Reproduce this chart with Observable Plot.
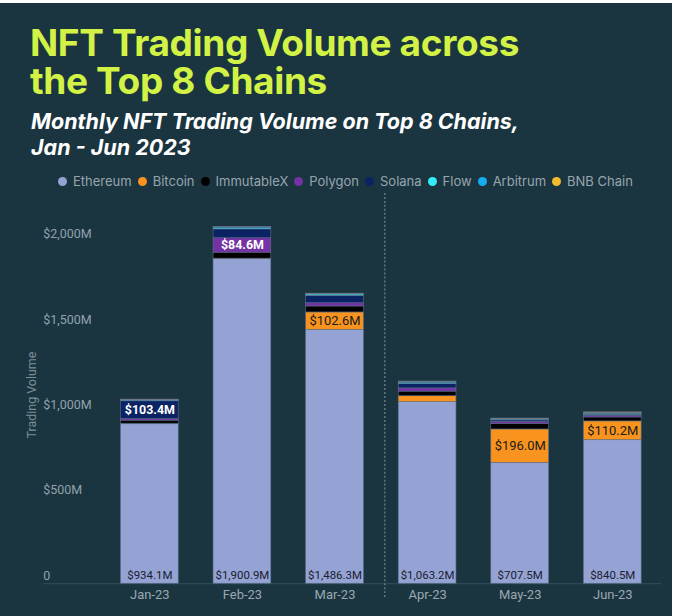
<!DOCTYPE html>
<html>
<head>
<meta charset="utf-8">
<script src="https://cdn.jsdelivr.net/npm/d3@7"></script>
<script src="https://cdn.jsdelivr.net/npm/@observablehq/plot@0.6"></script>
<style>
  html, body { margin: 0; padding: 0; background: #ffffff; }
  #card { position: absolute; left: 0; top: 3px; width: 672px; height: 613px; background: #1a3540; overflow: hidden; font-family: Inter, Roboto, sans-serif; }
  .title { position: absolute; left: 30px; margin: 0; font-family: Inter, Roboto, sans-serif; font-size: 37px; line-height: 38px; height: 38px; font-weight: 700; color: #d2f245; letter-spacing: -0.35px; white-space: nowrap; }
  .subtitle { position: absolute; left: 31px; margin: 0; font-family: Inter, Roboto, sans-serif; font-size: 21.5px; line-height: 26px; height: 26px; font-weight: 700; font-style: italic; color: #ffffff; white-space: nowrap; }
  #legend { position: absolute; left: 58px; top: 170px; display: flex; align-items: center; font-size: 13px; color: #98a5ae; white-space: nowrap; }
  #legend .item { display: flex; align-items: center; margin-right: 6px; }
  #legend .dot { width: 9px; height: 9px; border-radius: 50%; margin-right: 6px; }
  #chart { position: absolute; left: 0; top: 184px; }
</style>
</head>
<body>
<div id="card">
  <div class="title" style="top: 21px;">NFT Trading Volume across</div>
  <div class="title" style="top: 59px;">the Top 8 Chains</div>
  <div class="subtitle" style="top: 105px;">Monthly NFT Trading Volume on Top 8 Chains,</div>
  <div class="subtitle" style="top: 131px;">Jan - Jun 2023</div>
  <div id="legend"></div>
  <div id="chart"></div>
</div>
<script>
const months = ["Jan-23", "Feb-23", "Mar-23", "Apr-23", "May-23", "Jun-23"];
const chains = ["Ethereum", "Bitcoin", "ImmutableX", "Polygon", "Solana", "Flow", "Arbitrum", "BNB Chain"];
const chainColors = ["#94a3d4", "#f7931e", "#000000", "#7432a4", "#0b2363", "#34ecf8", "#14aef0", "#f3ba2f"];

// Monthly volume, $M
const ethereum   = [934.1, 1900.9, 1486.3, 1063.2, 707.5, 840.5];
const bitcoin    = [3, 3, 102.6, 35, 196.0, 110.2];
const immutableX = [18, 35, 35, 27, 33, 23];
const polygon    = [10, 84.6, 19, 19, 12, 10];
const solana     = [103.4, 52, 43, 25, 8, 6];
const flow       = [5, 8, 8, 6, 5, 5];
const arbitrum   = [3, 4, 3, 7, 4, 5];
const bnbChain   = [2, 3, 2, 2, 2, 4];

// Which segments carry a value label
const labeledSegments = [
  ["Jan-23", "Solana"], ["Feb-23", "Polygon"], ["Mar-23", "Bitcoin"],
  ["May-23", "Bitcoin"], ["Jun-23", "Bitcoin"]
];

const yTicks = [0, 500, 1000, 1500, 2000];
const dividerMonth = "Apr-23";

const series = [ethereum, bitcoin, immutableX, polygon, solana, flow, arbitrum, bnbChain];
const rows = [];
months.forEach((m, i) => {
  chains.forEach((c, j) => {
    rows.push({month: m, chain: c, value: series[j][i]});
  });
});
const isLabeled = d => labeledSegments.some(([m, c]) => m === d.month && c === d.chain);
const fmt = v => "$" + d3.format(",.1f")(v) + "M";
const ethRows = rows.filter(d => d.chain === "Ethereum");

// Legend
const legend = document.getElementById("legend");
chains.forEach((c, j) => {
  const item = document.createElement("div");
  item.className = "item";
  const dot = document.createElement("span");
  dot.className = "dot";
  dot.style.background = chainColors[j];
  const txt = document.createElement("span");
  txt.textContent = c;
  item.appendChild(dot);
  item.appendChild(txt);
  legend.appendChild(item);
});

const chart = Plot.plot({
  width: 675,
  height: 429,
  marginLeft: 101,
  marginRight: 11,
  marginTop: 55,
  marginBottom: 31,
  style: {background: "transparent", fontFamily: "Roboto, sans-serif"},
  x: {domain: months, paddingInner: 0.378, paddingOuter: 0.189, label: null},
  y: {domain: [0, 2000], label: null},
  color: {domain: chains, range: chainColors},
  marks: [
    Plot.ruleY([0], {stroke: "#34505c", insetLeft: -58}),
    Plot.ruleX([dividerMonth], {y1: 2286, y2: -90, dx: -43, stroke: "#5f7884", strokeWidth: 1.5, strokeDasharray: "2,2"}),
    Plot.barY(rows, {x: "month", y: "value", fill: "chain", stroke: "#5b6f8a", strokeWidth: 0.6}),
    Plot.text(rows, Plot.stackY({x: "month", y: "value",
      text: d => isLabeled(d) && (d.chain === "Solana" || d.chain === "Polygon") ? fmt(d.value) : null,
      fill: "#ffffff", fontWeight: 700, fontSize: 12.5})),
    Plot.text(rows, Plot.stackY({x: "month", y: "value",
      text: d => isLabeled(d) && d.chain === "Bitcoin" ? fmt(d.value) : null,
      fill: "#1b1b1b", fontSize: 13})),
    Plot.text(ethRows, {x: "month", y: () => 0, text: d => fmt(d.value), dy: -8, fill: "#1b2030", fontSize: 11.5}),
    Plot.text(["Trading Volume"], {frameAnchor: "left", textAnchor: "middle", rotate: -90, dx: -69, dy: -18, fill: "#7d8d98", fontSize: 12.5}),
    Plot.axisY({ticks: yTicks, tickSize: 0, tickPadding: 0, textAnchor: "start", dx: -58, dy: -8,
      tickFormat: d => d === 0 ? "0" : "$" + d3.format(",")(d) + "M", fill: "#93a2ac", fontSize: 12.5, label: null}),
    Plot.axisX({tickSize: 0, tickPadding: 6, fill: "#9aa8b2", fontSize: 13, label: null})
  ]
});
document.getElementById("chart").appendChild(chart);
</script>
</body>
</html>
